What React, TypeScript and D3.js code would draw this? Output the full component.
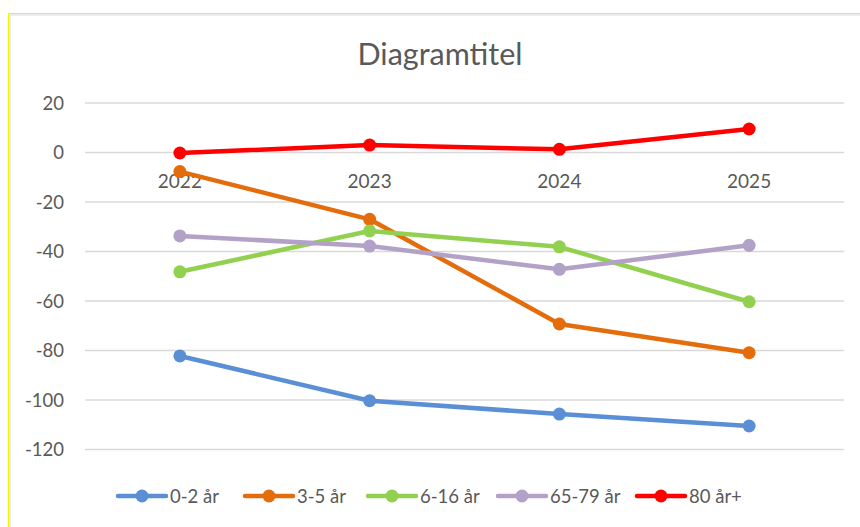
import React from "react";
import * as d3 from "d3";

const categories = ["2022", "2023", "2024", "2025"];
const seriesNames = ["0-2 år", "3-5 år", "6-16 år", "65-79 år", "80 år+"];
const s0_2 = [-82.2, -100.3, -105.7, -110.5];
const s3_5 = [-7.7, -27.0, -69.3, -80.9];
const s6_16 = [-48.2, -31.7, -38.1, -60.3];
const s65_79 = [-33.7, -37.8, -47.2, -37.5];
const s80 = [-0.2, 3.0, 1.3, 9.5];
const yTicks = [20, 0, -20, -40, -60, -80, -100, -120];
const colors = ["#5A8FD6", "#E46C0A", "#92D050", "#B3A2C7", "#FF0000"];
const title = "Diagramtitel";

const W = 860;
const H = 527;
const FONT = "Lato, 'Open Sans', sans-serif";
const TEXT = "#595959";

export default function App() {
  const allSeries = [s0_2, s3_5, s6_16, s65_79, s80];
  const x = d3.scaleBand<string>().domain(categories).range([85, 844]);
  const y = d3.scaleLinear().domain([-120, 20]).range([449.5, 103]);
  const cx = (c: string) => (x(c) as number) + x.bandwidth() / 2;
  const line = d3
    .line<number>()
    .x((_, i) => cx(categories[i]))
    .y((d) => y(d));

  const legendX = [118, 245, 368, 498, 637];
  const legendY = 496;

  return (
    <svg
      width={W}
      height={H}
      style={{ position: "absolute", left: 0, top: 0, background: "#fff" }}
    >
      <rect x={0} y={0} width={W} height={H} fill="#fff" />
      <line x1={8.5} y1={13.5} x2={8.5} y2={H} stroke="#F2F200" strokeWidth={1.2} />
      <line x1={8.5} y1={13.5} x2={W} y2={13.5} stroke="#F2F200" strokeWidth={1.2} />
      <line x1={10} y1={15} x2={10} y2={H} stroke="#D9D9D9" strokeWidth={1} />
      <line x1={10} y1={15} x2={W} y2={15} stroke="#D9D9D9" strokeWidth={1} />

      <text
        x={440}
        y={65}
        textAnchor="middle"
        fontFamily={FONT}
        fontSize={30.5}
        fill={TEXT}
      >
        {title}
      </text>

      {yTicks.map((t) => (
        <g key={t}>
          <line
            x1={85}
            x2={844}
            y1={y(t)}
            y2={y(t)}
            stroke="#D9D9D9"
            strokeWidth={1.3}
          />
          <text
            x={64}
            y={y(t) + 6.5}
            textAnchor="end"
            fontFamily={FONT}
            fontSize={18.5}
            fill={TEXT}
          >
            {t}
          </text>
        </g>
      ))}

      {categories.map((c) => (
        <text
          key={c}
          x={cx(c)}
          y={188}
          textAnchor="middle"
          fontFamily={FONT}
          fontSize={19}
          fill={TEXT}
        >
          {c}
        </text>
      ))}

      {allSeries.map((s, i) => (
        <g key={seriesNames[i]}>
          <path
            d={line(s) || ""}
            fill="none"
            stroke={colors[i]}
            strokeWidth={4.5}
            strokeLinejoin="round"
            strokeLinecap="round"
          />
          {s.map((v, j) => (
            <circle key={j} cx={cx(categories[j])} cy={y(v)} r={6.5} fill={colors[i]} />
          ))}
        </g>
      ))}

      {seriesNames.map((n, i) => (
        <g key={n}>
          <line
            x1={legendX[i]}
            x2={legendX[i] + 48}
            y1={legendY}
            y2={legendY}
            stroke={colors[i]}
            strokeWidth={4.5}
            strokeLinecap="round"
          />
          <circle cx={legendX[i] + 24} cy={legendY} r={6.5} fill={colors[i]} />
          <text
            x={legendX[i] + 52}
            y={legendY + 6.5}
            fontFamily={FONT}
            fontSize={18.5}
            fill={TEXT}
          >
            {n}
          </text>
        </g>
      ))}
    </svg>
  );
}
